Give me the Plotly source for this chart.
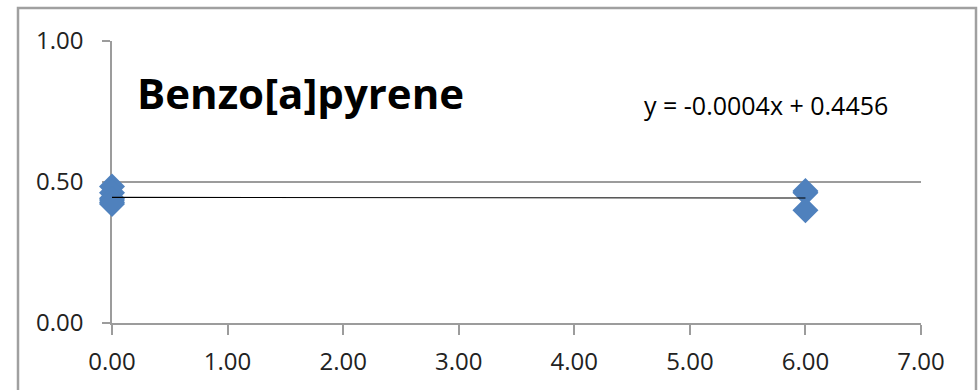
import numpy as np
import plotly.graph_objects as go

# Measured concentrations (two sampling times)
time_points = [0, 0, 0, 0, 0, 0, 6, 6, 6]
concentration = [0.484, 0.462, 0.442, 0.436, 0.428, 0.422, 0.468, 0.462, 0.400]

# Linear trendline coefficients shown in the equation label
slope = -0.0004
intercept = 0.4456
trend_x = [0, 6]

x_ticks = [0, 1, 2, 3, 4, 5, 6, 7]
y_ticks = [0, 0.5, 1.0]

title_text = "Benzo[a]pyrene"
equation_text = "y = -0.0004x + 0.4456"

axis_grey = "#9c9c9c"
font_family = "Open Sans"

fig = go.Figure()

fig.add_trace(go.Scatter(
    x=time_points,
    y=concentration,
    mode="markers",
    marker=dict(symbol="diamond", size=20, color="#4f81bd", line=dict(width=0)),
    cliponaxis=False,
    showlegend=False,
))

trend_y = [slope * xv + intercept for xv in trend_x]
fig.add_trace(go.Scatter(
    x=trend_x,
    y=trend_y,
    mode="lines",
    line=dict(color="#000000", width=1.2),
    cliponaxis=False,
    showlegend=False,
))

fig.update_layout(
    width=980,
    height=390,
    margin=dict(l=112, r=59, t=41, b=67),
    paper_bgcolor="white",
    plot_bgcolor="white",
    font=dict(family=font_family, size=24, color="#222222"),
    xaxis=dict(
        range=[0, 7],
        tickvals=x_ticks,
        tickformat=".2f",
        showgrid=False,
        zeroline=False,
        showline=True,
        linecolor=axis_grey,
        linewidth=1.5,
        ticks="outside",
        ticklen=10,
        tickcolor=axis_grey,
        tickwidth=1.5,
        ticklabelstandoff=6,
        layer="below traces",
    ),
    yaxis=dict(
        range=[0, 1.0],
        tickvals=y_ticks,
        tickformat=".2f",
        showgrid=True,
        gridcolor=axis_grey,
        gridwidth=1.5,
        zeroline=False,
        showline=True,
        linecolor=axis_grey,
        linewidth=1.5,
        ticks="outside",
        ticklen=8,
        tickcolor=axis_grey,
        tickwidth=1.5,
        ticklabelstandoff=14,
        layer="below traces",
    ),
    shapes=[
        dict(
            type="rect",
            xref="paper", yref="paper",
            x0=(18 - 112) / 809, x1=(976 - 112) / 809,
            y0=-0.3, y1=(323 - 8) / 282,
            line=dict(color="#a0a0a0", width=2.5),
            fillcolor="rgba(0,0,0,0)",
            layer="below",
        )
    ],
    annotations=[
        dict(
            text="<b>" + title_text + "</b>",
            xref="paper", yref="paper",
            x=(135 - 112) / 809, y=(323 - 92) / 282,
            xanchor="left", yanchor="middle",
            showarrow=False,
            font=dict(family=font_family, size=42, color="#000000"),
        ),
        dict(
            text=equation_text,
            xref="paper", yref="paper",
            x=(642 - 112) / 809, y=(323 - 105) / 282,
            xanchor="left", yanchor="middle",
            showarrow=False,
            font=dict(family=font_family, size=25, color="#000000"),
        ),
    ],
)

fig.write_html("out.html")
